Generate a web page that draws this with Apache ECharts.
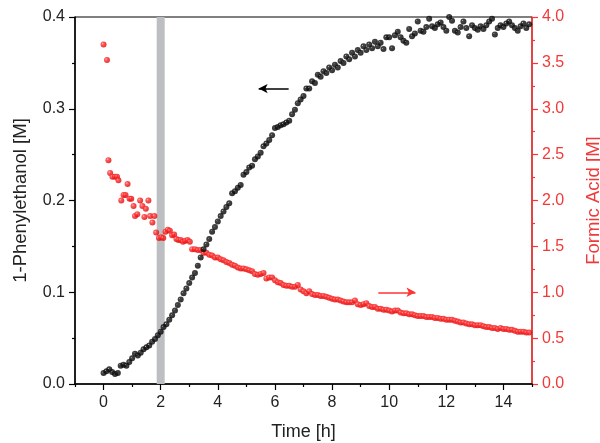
<!DOCTYPE html>
<html>
<head>
<meta charset="utf-8">
<script src="https://cdn.jsdelivr.net/npm/echarts@6/dist/echarts.min.js"></script>
<style>
html,body{margin:0;padding:0;background:#fff;}
#chart{width:600px;height:443px;}
</style>
</head>
<body>
<div id="chart"></div>
<script>
// ---- data ----
var blackTime = [0.0,0.1,0.2,0.3,0.4,0.5,0.6,0.7,0.8,0.9,1.0,1.1,1.2,1.3,1.4,1.5,1.6,1.7,1.8,1.9,
2.0,2.1,2.2,2.3,2.4,2.5,2.6,2.7,2.8,2.9,3.0,3.1,3.2,3.3,3.4,3.5,3.6,3.7,3.8,3.9,
4.0,4.1,4.2,4.3,4.4,4.5,4.6,4.7,4.8,4.9,5.0,5.1,5.2,5.3,5.4,5.5,5.6,5.7,5.8,5.9,
6.0,6.1,6.2,6.3,6.4,6.5,6.6,6.7,6.8,6.9,7.0,7.1,7.2,7.3,7.4,7.5,7.6,7.7,7.8,7.9,
8.0,8.1,8.2,8.3,8.4,8.5,8.6,8.7,8.8,8.9,9.0,9.1,9.2,9.3,9.4,9.5,9.6,9.7,9.8,9.9,
10.0,10.1,10.2,10.3,10.4,10.5,10.6,10.7,10.8,10.9,11.0,11.1,11.2,11.3,11.4,11.5,11.6,11.7,11.8,11.9,
12.0,12.1,12.2,12.3,12.4,12.5,12.6,12.7,12.8,12.9,13.0,13.1,13.2,13.3,13.4,13.5,13.6,13.7,13.8,13.9,
14.0,14.1,14.2,14.3,14.4,14.5,14.6,14.7,14.8,14.9];
var blackValues = [0.012,0.014,0.016,0.013,0.011,0.012,0.020,0.021,0.020,0.024,
0.028,0.033,0.031,0.034,0.038,0.040,0.042,0.046,0.049,0.053,
0.057,0.062,0.065,0.070,0.075,0.080,0.086,0.092,0.099,0.104,
0.110,0.116,0.121,0.129,0.138,0.147,0.152,0.158,0.166,0.171,
0.177,0.183,0.188,0.193,0.197,0.208,0.210,0.214,0.217,0.228,
0.231,0.236,0.238,0.245,0.248,0.252,0.259,0.262,0.266,0.271,
0.279,0.280,0.282,0.283,0.285,0.287,0.294,0.299,0.306,0.310,
0.314,0.322,0.322,0.330,0.328,0.337,0.335,0.341,0.339,0.345,
0.342,0.348,0.345,0.352,0.350,0.357,0.354,0.361,0.357,0.364,
0.361,0.368,0.364,0.370,0.366,0.373,0.368,0.372,0.365,0.378,
0.378,0.366,0.380,0.384,0.378,0.374,0.372,0.387,0.379,0.382,
0.395,0.385,0.384,0.389,0.398,0.390,0.388,0.392,0.394,0.389,
0.385,0.400,0.396,0.385,0.383,0.389,0.395,0.388,0.379,0.391,
0.388,0.386,0.390,0.387,0.391,0.395,0.398,0.381,0.388,0.391,
0.389,0.393,0.395,0.391,0.388,0.385,0.390,0.393,0.388,0.392];

var redTime = [0.00,0.12,0.17,0.23,0.31,0.40,0.47,0.52,0.62,0.70,0.77,0.84,0.91,0.97,
1.05,1.10,1.18,1.28,1.36,1.43,1.48,1.57,1.63,1.71,1.78,1.84,1.94,
2.02,2.09,2.17,2.25,2.32,2.40,2.47,2.55,2.62,2.70,2.78,2.86,2.94,3.02,3.10,
3.2,3.3,3.4,3.5,3.6,3.7,3.8,3.9,
4.0,4.1,4.2,4.3,4.4,4.5,4.6,4.7,4.8,4.9,5.0,5.1,5.2,5.3,5.4,5.5,5.6,5.7,5.8,5.9,
6.0,6.1,6.2,6.3,6.4,6.5,6.6,6.7,6.8,6.9,7.0,7.1,7.2,7.3,7.4,7.5,7.6,7.7,7.8,7.9,
8.0,8.1,8.2,8.3,8.4,8.5,8.6,8.7,8.8,8.9,9.0,9.1,9.2,9.3,9.4,9.5,9.6,9.7,9.8,9.9,
10.0,10.1,10.2,10.3,10.4,10.5,10.6,10.7,10.8,10.9,11.0,11.1,11.2,11.3,11.4,11.5,11.6,11.7,11.8,11.9,
12.0,12.1,12.2,12.3,12.4,12.5,12.6,12.7,12.8,12.9,13.0,13.1,13.2,13.3,13.4,13.5,13.6,13.7,13.8,13.9,
14.0,14.1,14.2,14.3,14.4,14.5,14.6,14.7,14.8,14.9];
var redValues = [3.70,3.53,2.44,2.30,2.26,2.26,2.26,2.22,2.00,2.06,2.06,2.18,2.02,2.02,
1.94,1.83,1.85,2.00,1.94,1.82,1.91,2.00,1.83,1.76,1.83,1.65,1.59,
1.60,1.59,1.66,1.68,1.67,1.62,1.63,1.58,1.57,1.57,1.55,1.56,1.57,1.55,1.47,
1.47,1.46,1.46,1.43,1.43,1.41,1.40,1.38,
1.38,1.36,1.35,1.33,1.32,1.30,1.29,1.27,1.26,1.26,1.25,1.24,1.23,1.20,1.19,1.20,1.21,1.15,1.16,1.16,
1.13,1.11,1.10,1.08,1.07,1.07,1.06,1.06,1.08,1.03,1.01,0.99,1.01,0.98,0.97,0.97,0.96,0.96,0.95,0.94,
0.93,0.92,0.92,0.91,0.90,0.89,0.89,0.89,0.91,0.87,0.86,0.87,0.88,0.85,0.84,0.84,0.82,0.82,0.81,0.81,
0.80,0.79,0.80,0.80,0.78,0.77,0.77,0.76,0.76,0.75,0.74,0.74,0.74,0.73,0.73,0.73,0.72,0.72,0.71,0.71,
0.70,0.70,0.70,0.69,0.68,0.67,0.67,0.66,0.65,0.65,0.64,0.64,0.64,0.63,0.62,0.62,0.61,0.61,0.60,0.61,
0.60,0.60,0.59,0.59,0.58,0.57,0.57,0.57,0.56,0.56];

var xTickLabels = [0,2,4,6,8,10,12,14];
var xMinorTicks = [-1,1,3,5,7,9,11,13,15];
var bandRange = [1.86, 2.14];
var blackArrow = [[6.48,0.322],[5.43,0.322]];
var redArrow = [[9.62,1.0],[10.92,1.0]];

// ---- chart ----
var RED = '#ff3333';
var RED_TXT = '#f03a3a';
var FONT = 'Liberation Sans, Arial, sans-serif';
var chart = echarts.init(document.getElementById('chart'), null, {renderer:'canvas'});

var blackData = blackTime.map(function(t,i){return [t, blackValues[i]];});
var redData = redTime.map(function(t,i){return [t, redValues[i]];});

var blackBall = new echarts.graphic.RadialGradient(0.35,0.35,0.7,[
  {offset:0,color:'#c0c0c0'},{offset:0.16,color:'#151515'},{offset:1,color:'#000'}]);
var redBall = new echarts.graphic.RadialGradient(0.35,0.35,0.7,[
  {offset:0,color:'#ffa8a8'},{offset:0.3,color:'#ff3030'},{offset:1,color:'#dd0000'}]);

var option = {
  animation:false,
  backgroundColor:'#fff',
  grid:{left:75,right:68,top:17,bottom:59,show:true,borderColor:'#000',borderWidth:1,
        containLabel:false,outerBoundsMode:'none'},
  xAxis:[{
    type:'value',min:-1,max:15,
    name:'Time [h]',nameLocation:'middle',nameGap:39,
    nameTextStyle:{fontFamily:FONT,fontSize:18,color:'#222'},
    axisLine:{show:true,onZero:false,lineStyle:{color:'#000',width:1.5}},
    axisTick:{show:true,customValues:xTickLabels,length:6,lineStyle:{color:'#000',width:1.2}},
    axisLabel:{customValues:xTickLabels,fontFamily:FONT,fontSize:16,color:'#222',margin:11},
    splitLine:{show:false}
  },{
    type:'value',min:-1,max:15,position:'bottom',gridIndex:0,
    axisLine:{show:false,onZero:false},
    axisTick:{show:true,customValues:xMinorTicks,length:3,lineStyle:{color:'#000',width:1.2}},
    axisLabel:{show:false},splitLine:{show:false}
  }],
  yAxis:[{
    type:'value',min:0,max:0.4,interval:0.1,position:'left',
    name:'1-Phenylethanol [M]',nameLocation:'middle',nameGap:45,nameRotate:90,
    nameTextStyle:{fontFamily:FONT,fontSize:18.5,color:'#222'},
    axisLine:{show:true,onZero:false,lineStyle:{color:'#000',width:1.5}},
    axisTick:{show:true,length:6,lineStyle:{color:'#000',width:1.2}},
    minorTick:{show:true,splitNumber:2,length:3,lineStyle:{color:'#000',width:1.2}},
    axisLabel:{fontFamily:FONT,fontSize:16,color:'#222',margin:10,formatter:function(v){return v.toFixed(1);}},
    splitLine:{show:false}
  },{
    type:'value',min:0,max:4,interval:0.5,position:'right',
    name:'Formic Acid [M]',nameLocation:'middle',nameGap:52,nameRotate:90,
    nameTextStyle:{fontFamily:FONT,fontSize:18.5,color:RED_TXT},
    axisLine:{show:true,onZero:false,lineStyle:{color:RED,width:1.5}},
    axisTick:{show:true,length:6,lineStyle:{color:RED,width:1.2}},
    minorTick:{show:true,splitNumber:2,length:3,lineStyle:{color:RED,width:1.2}},
    axisLabel:{fontFamily:FONT,fontSize:16,color:RED_TXT,margin:10,formatter:function(v){return v.toFixed(1);}},
    splitLine:{show:false}
  }],
  series:[{
    type:'scatter',name:'Formic Acid',xAxisIndex:0,yAxisIndex:1,
    data:redData,symbol:'circle',symbolSize:6,
    itemStyle:{color:redBall},
    z:3,
    markArea:{silent:true,itemStyle:{color:'#bdbec2',opacity:1},
      data:[[{xAxis:bandRange[0],yAxis:0},{xAxis:bandRange[1],yAxis:4}]]},
    markLine:{silent:true,symbol:['none','arrow'],symbolSize:[7,9],
      lineStyle:{color:RED,width:1.5,type:'solid'},label:{show:false},
      data:[[{coord:redArrow[0]},{coord:redArrow[1]}]]}
  },{
    type:'scatter',name:'1-Phenylethanol',xAxisIndex:0,yAxisIndex:0,
    data:blackData,symbol:'circle',symbolSize:6,
    itemStyle:{color:blackBall},
    z:4,
    markLine:{silent:true,symbol:['none','arrow'],symbolSize:[7,9],
      lineStyle:{color:'#000',width:1.5,type:'solid'},label:{show:false},
      data:[[{coord:blackArrow[0]},{coord:blackArrow[1]}]]}
  }]
};
chart.setOption(option);
</script>
</body>
</html>
